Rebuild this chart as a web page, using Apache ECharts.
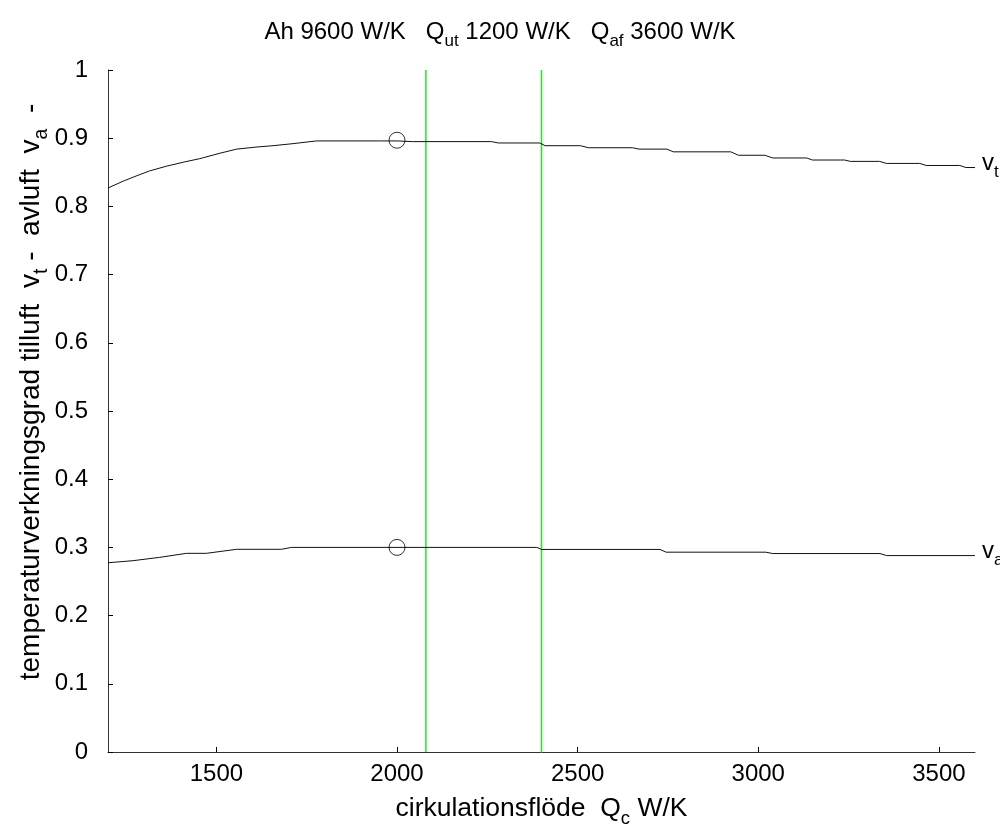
<!DOCTYPE html>
<html><head><meta charset="utf-8">
<script src="https://cdn.jsdelivr.net/npm/echarts@6/dist/echarts.min.js"></script>
<style>html,body{margin:0;padding:0;background:#fff}#c{width:1000px;height:825px}</style>
</head><body><div id="c"></div>
<script>
// x values (cirkulationsflöde Qc, W/K) and efficiency for supply air (tilluft)
const qcTilluft = [1200,1242,1280,1315,1362,1410,1454,1510,1556,1610,1657,1712,1777,1952,2000,2043,2262,2280,2395,2410,2508,2530,2652,2670,2747,2765,2924,2945,3018,3040,3134,3150,3239,3255,3336,3355,3447,3465,3558,3575,3600];
const vTilluft  = [0.827,0.837,0.845,0.852,0.859,0.865,0.870,0.878,0.884,0.887,0.889,0.892,0.896,0.896,0.896,0.895,0.895,0.893,0.893,0.889,0.889,0.886,0.886,0.884,0.884,0.880,0.880,0.875,0.875,0.871,0.871,0.868,0.868,0.866,0.866,0.863,0.863,0.860,0.860,0.857,0.857];
// exhaust air (avluft)
const qcAvluft = [1200,1269,1343,1417,1472,1556,1680,1708,2387,2400,2728,2745,3021,3040,3337,3355,3600];
const vAvluft  = [0.2775,0.2805,0.2854,0.2913,0.2913,0.2972,0.2972,0.300,0.300,0.297,0.297,0.293,0.293,0.291,0.291,0.288,0.288];
// markers
const markerQc = [2000, 2000];
const markerV  = [0.897, 0.300];
// green vertical lines
const greenLinesQc = [2080, 2400];
// axes
const xMin = 1200, xMax = 3600;
const yMin = 0, yMax = 1, yStep = 0.1;

const FONT = 'Liberation Sans, Arial, sans-serif';
const FS = 24;
const SFS = 17;
const NFS = 26.5;
const NSFS = 18.5;
const YFS = 28;
const YSFS = 19.5;
const richBase = {
  n: {fontSize: FS, fontFamily: FONT, color: '#000', fontWeight: 'normal'},
  s: {fontSize: SFS, fontFamily: FONT, color: '#000', fontWeight: 'normal', padding: [18,0,0,0]}
};
const richName = {
  n: {fontSize: NFS, fontFamily: FONT, color: '#000', fontWeight: 'normal'},
  s: {fontSize: NSFS, fontFamily: FONT, color: '#000', fontWeight: 'normal', padding: [20,0,0,0]}
};

const greenSeries = greenLinesQc.map(x => ({
  type: 'line', data: [[x, yMin], [x, yMax]], showSymbol: false, silent: true,
  lineStyle: {color: '#22e622', width: 1.5}, z: 1
}));

const chart = echarts.init(document.getElementById('c'), null, {renderer: 'canvas'});
chart.setOption({
  animation: false,
  backgroundColor: '#fff',
  title: {
    text: '{n|Ah 9600 W/K   Q}{s|ut}{n| 1200 W/K   Q}{s|af}{n| 3600 W/K}',
    left: 'center', top: 10,
    textStyle: {rich: richBase, fontWeight: 'normal'}
  },
  grid: {left: 108, right: 25, top: 70, bottom: 73, containLabel: false, outerBoundsMode: 'none'},
  xAxis: {
    type: 'value', min: xMin, max: xMax,
    axisLine: {show: true, lineStyle: {color: '#333', width: 1}},
    axisTick: {show: true, inside: true, length: 5, lineStyle: {color: '#000'}},
    splitLine: {show: false},
    axisLabel: {
      color: '#000', fontSize: FS, fontFamily: FONT, margin: 10,
      showMinLabel: false, showMaxLabel: false,
      formatter: v => (v % 500 === 0 ? String(v) : '')
    },
    name: '{n|cirkulationsflöde  Q}{s|c}{n| W/K}',
    nameLocation: 'middle', nameGap: 37,
    nameTextStyle: {rich: richName}
  },
  yAxis: {
    type: 'value', min: yMin, max: yMax, interval: yStep,
    axisLine: {show: true, lineStyle: {color: '#333', width: 1}},
    axisTick: {show: true, inside: true, length: 5, lineStyle: {color: '#000'}},
    splitLine: {show: false},
    axisLabel: {color: '#000', fontSize: FS, fontFamily: FONT, margin: 20,
      formatter: v => String(Math.round(v * 10) / 10)}
  },
  graphic: [{
    type: 'text', x: 31, y: 392, rotation: Math.PI / 2,
    style: {
      text: '{n|temperaturverkningsgrad tilluft  v}{s|t}{n| -  avluft  v}{s|a}{n|  -}',
      rich: {
        n: {fontSize: YFS, fontFamily: FONT, fill: '#000'},
        s: {fontSize: YSFS, fontFamily: FONT, fill: '#000', padding: [21,0,0,0]}
      },
      align: 'center', verticalAlign: 'middle'
    }
  }],
  series: [
    ...greenSeries,
    {
      type: 'line', data: qcTilluft.map((x, i) => [x, vTilluft[i]]),
      showSymbol: false, lineStyle: {color: '#111', width: 1}, z: 3,
      endLabel: {show: true, distance: 7, offset: [0, -4], formatter: '{n|v}{s|t}', rich: richBase}
    },
    {
      type: 'line', data: qcAvluft.map((x, i) => [x, vAvluft[i]]),
      showSymbol: false, lineStyle: {color: '#111', width: 1}, z: 3,
      endLabel: {show: true, distance: 7, offset: [0, -4], formatter: '{n|v}{s|a}', rich: richBase}
    },
    {
      type: 'scatter', data: markerQc.map((x, i) => [x, markerV[i]]),
      symbol: 'circle', symbolSize: 16,
      itemStyle: {color: 'rgba(0,0,0,0)', borderColor: '#000', borderWidth: 1}, z: 5
    }
  ]
});
</script></body></html>
